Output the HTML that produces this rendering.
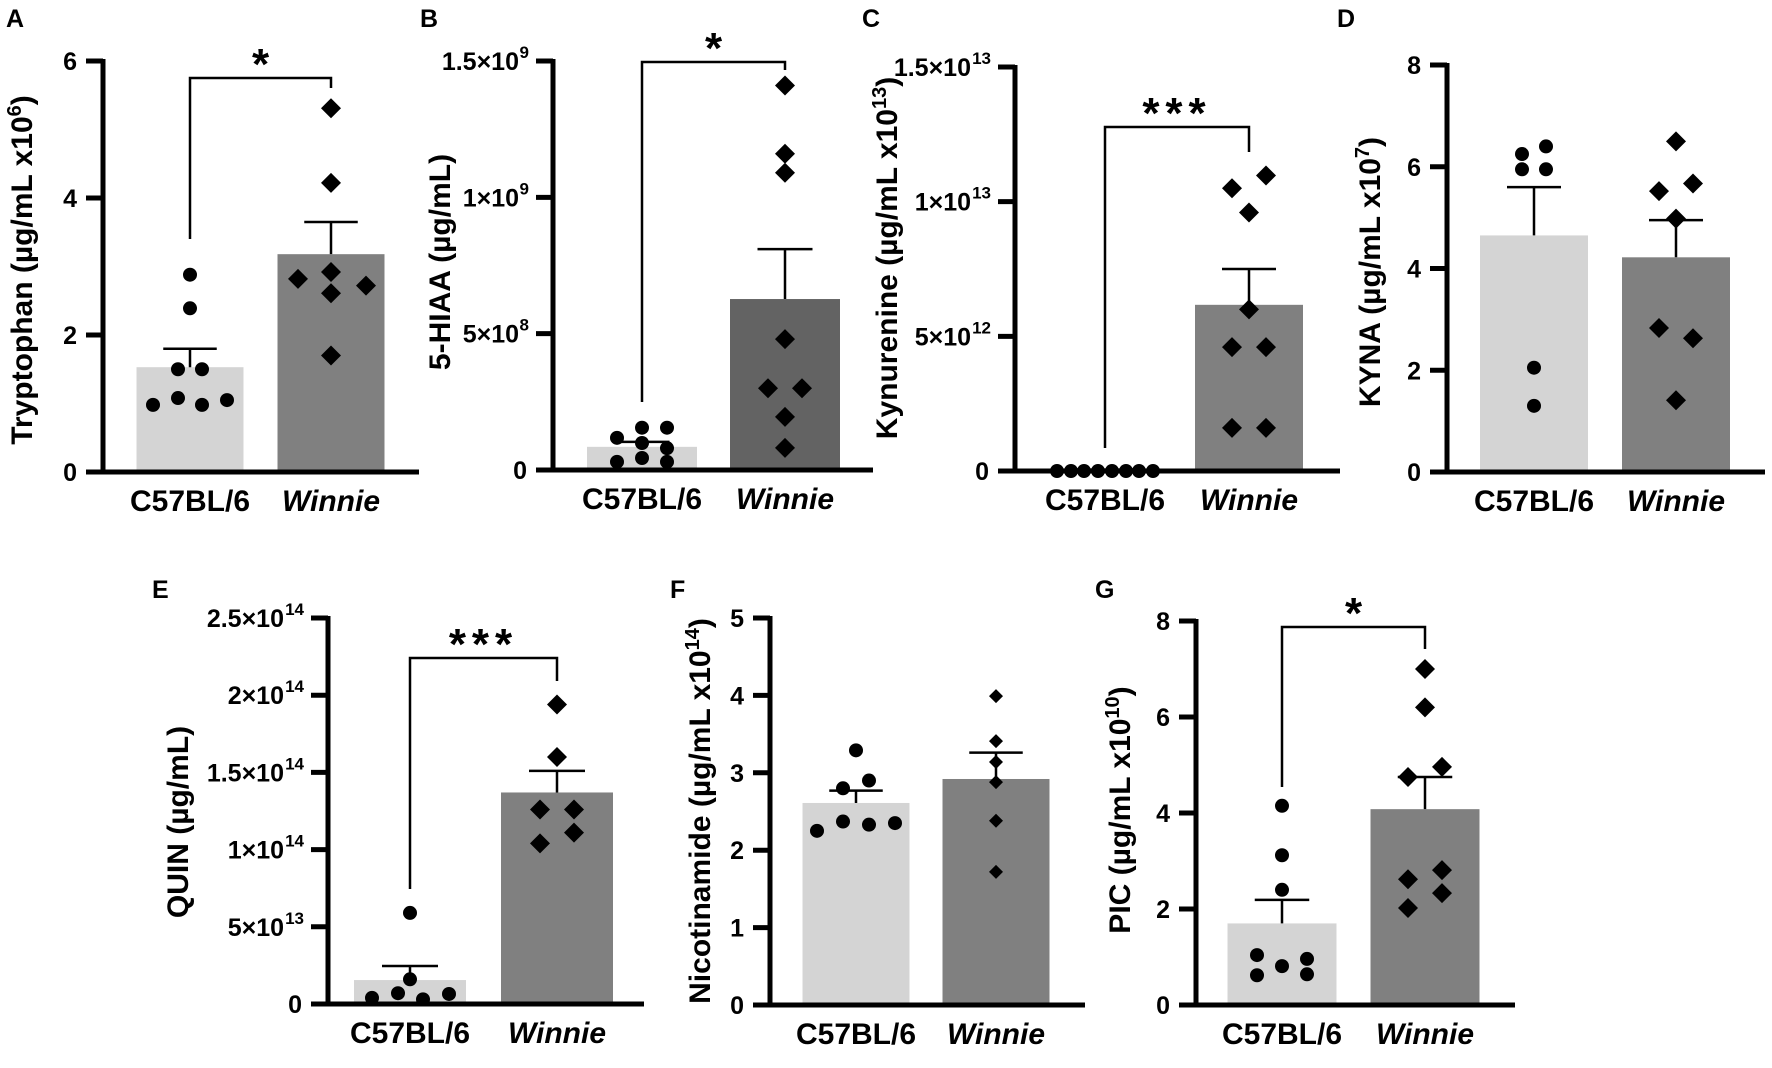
<!DOCTYPE html>
<html><head><meta charset="utf-8">
<style>
html,body{margin:0;padding:0;background:#fff;}
svg{display:block;font-family:"Liberation Sans",Arial,sans-serif;font-weight:bold;}
</style></head>
<body>
<svg id="fig" width="1772" height="1068" viewBox="0 0 1772 1068" xmlns="http://www.w3.org/2000/svg"></svg>
<script>
// ---------- DATA (values in axis units) ----------
// A: Tryptophan (x10^6)
const aMeans=[1.53,3.18];
const aSemTop=[1.8,3.65];
const aC57=[2.88,2.39,1.5,1.5,1.08,0.98,0.98,1.05];
const aWin=[5.31,4.22,2.92,2.82,2.61,2.72,1.7];
// B: 5-HIAA (x10^8)
const bMeans=[0.85,6.27];
const bSemTop=[1.03,8.1];
const bC57=[1.55,1.55,1.18,0.99,0.8,0.44,0.3,0.3];
const bWin=[14.1,11.6,10.9,4.8,3.0,3.0,1.95,0.81];
// C: Kynurenine (x10^12)
const cMeans=[0.05,6.17];
const cSemTop=[0.05,7.5];
const cC57=[0,0,0,0,0,0,0,0];
const cWin=[10.97,10.5,9.6,6.0,4.6,4.6,1.6,1.6];
// D: KYNA (x10^7)
const dMeans=[4.65,4.22];
const dSemTop=[5.6,4.95];
const dC57=[6.25,6.4,5.95,5.95,2.05,1.3];
const dWin=[6.5,5.52,5.67,4.98,2.83,2.63,1.41];
// E: QUIN (x10^13)
const eMeans=[1.55,13.7];
const eSemTop=[2.46,15.1];
const eC57=[5.9,1.6,0.7,0.65,0.4,0.3];
const eWin=[19.4,16.0,12.6,12.6,11.1,10.4];
// F: Nicotinamide (x10^14)
const fMeans=[2.61,2.92];
const fSemTop=[2.77,3.26];
const fC57=[3.29,2.9,2.8,2.37,2.33,2.35,2.25];
const fWin=[3.99,3.41,3.14,2.88,2.38,1.72];
// G: PIC (x10^10)
const gMeans=[1.7,4.08];
const gSemTop=[2.19,4.75];
const gC57=[4.15,3.12,2.4,1.04,0.96,0.81,0.62,0.64];
const gWin=[7.0,6.2,4.96,4.75,2.81,2.62,2.33,2.02];
// tick values / labels
const aTicks=[0,2,4,6];
const bTicks=[0,5,10,15]; const bTickLab=[["0",""],["5×10","8"],["1×10","9"],["1.5×10","9"]];
const cTicks=[0,5,10,15]; const cTickLab=[["0",""],["5×10","12"],["1×10","13"],["1.5×10","13"]];
const dTicks=[0,2,4,6,8];
const eTicks=[0,5,10,15,20,25]; const eTickLab=[["0",""],["5×10","13"],["1×10","14"],["1.5×10","14"],["2×10","14"],["2.5×10","14"]];
const fTicks=[0,1,2,3,4,5];
const gTicks=[0,2,4,6,8];
const groups=["C57BL/6","Winnie"];

// ---------- LAYOUT ----------
const panels=[
 {id:"a",letter:"A",lx:6,ly:27,axisX:103,y0:472,yTop:61,max:6,ticks:aTicks,tl:null,c:[190,331],bw:107,xEnd:419,
  means:aMeans,sem:aSemTop,c57:aC57,win:aWin,jc:[0,0,-12,12,-12,-37,12,37],jw:[0,0,0,-33,0,35,0],
  col2:"#808080",label:["Tryptophan (µg/mL x10","6",")"],labX:22,labY:270,br:{y:78,l:239,r:88,t:"*"},ds:10,r:7},
 {id:"b",letter:"B",lx:420,ly:27,axisX:553,y0:470,yTop:61,max:15,ticks:bTicks,tl:bTickLab,c:[642,785],bw:110,xEnd:873,
  means:bMeans,sem:bSemTop,c57:bC57,win:bWin,jc:[0,25,-25,0,25,0,-25,25],jw:[0,0,0,0,-17,17,0,0],
  col2:"#636363",label:["5-HIAA (µg/mL)","",""],labX:440,labY:262,br:{y:62,l:402,r:70,t:"*"},ds:10,r:7},
 {id:"c",letter:"C",lx:862,ly:27,axisX:1015,y0:471,yTop:67,max:15,ticks:cTicks,tl:cTickLab,c:[1105,1249],bw:108,xEnd:1340,
  means:cMeans,sem:cSemTop,c57:cC57,win:cWin,jc:[-48,-34,-21,-7,7,21,34,48],jw:[17,-17,0,0,-17,17,-17,17],
  col2:"#808080",label:["Kynurenine (µg/mL x10","13",")"],labX:887,labY:258,br:{y:127,l:448,r:152,t:"***"},ds:10,r:7},
 {id:"d",letter:"D",lx:1337,ly:27,axisX:1447,y0:472,yTop:65,max:8,ticks:dTicks,tl:null,c:[1534,1676],bw:108,xEnd:1765,
  means:dMeans,sem:dSemTop,c57:dC57,win:dWin,jc:[-12,12,-12,12,0,0],jw:[0,-17,17,0,-17,17,0],
  col2:"#808080",label:["KYNA (µg/mL x10","7",")"],labX:1370,labY:272,br:null,ds:10,r:7},
 {id:"e",letter:"E",lx:152,ly:598,axisX:328,y0:1004,yTop:618,max:25,ticks:eTicks,tl:eTickLab,c:[410,557],bw:112,xEnd:644,
  means:eMeans,sem:eSemTop,c57:eC57,win:eWin,jc:[0,0,-12,39,-38,13],jw:[0,0,-17,17,17,-17],
  col2:"#808080",label:["QUIN (µg/mL)","",""],labX:178,labY:822,br:{y:658,l:889,r:681,t:"***"},ds:10,r:7},
 {id:"f",letter:"F",lx:670,ly:598,axisX:770,y0:1005,yTop:618,max:5,ticks:fTicks,tl:null,c:[856,996],bw:107,xEnd:1085,
  means:fMeans,sem:fSemTop,c57:fC57,win:fWin,jc:[0,13,-13,-13,13,39,-39],jw:[0,0,0,0,0,0],
  col2:"#808080",label:["Nicotinamide (µg/mL x10","14",")"],labX:700,labY:811,br:null,ds:7,r:7},
 {id:"g",letter:"G",lx:1095,ly:598,axisX:1196,y0:1005,yTop:621,max:8,ticks:gTicks,tl:null,c:[1282,1425],bw:109,xEnd:1515,
  means:gMeans,sem:gSemTop,c57:gC57,win:gWin,jc:[0,0,0,-25,25,0,-25,25],jw:[0,0,17,-17,17,-17,17,-17],
  col2:"#808080",label:["PIC (µg/mL x10","10",")"],labX:1120,labY:810,br:{y:627,l:787,r:649,t:"*"},ds:10,r:7}
];

const NS="http://www.w3.org/2000/svg";
const svg=document.getElementById("fig");
function mk(tag,attrs,parent){const e=document.createElementNS(NS,tag);for(const k in attrs)e.setAttribute(k,attrs[k]);(parent||svg).appendChild(e);return e;}

panels.forEach(p=>{
  const g=mk("g",{});
  
  
  const yS=v=>p.y0-(v/p.max)*(p.y0-p.yTop);
  // letter
  const L=mk("text",{x:p.lx,y:p.ly,"font-size":25},g);L.textContent=p.letter;
  
  
  // bars
  [0,1].forEach(i=>{
    const top=yS(p.means[i]);
    const b=mk("rect",{x:p.c[i]-p.bw/2,y:top,width:p.bw,height:p.y0-top,fill:i?p.col2:"#d4d4d4"},g);
    
    
  });
  // axes
  const ax=mk("g",{stroke:"#000","stroke-width":5,fill:"none"},g);
  
  
  mk("line",{x1:p.axisX,y1:p.yTop-2,x2:p.axisX,y2:p.y0+2.5},ax);
  mk("line",{x1:p.axisX-17,y1:p.y0,x2:p.xEnd,y2:p.y0},ax);
  p.ticks.forEach((t,k)=>{
    const y=yS(t);
    mk("line",{x1:p.axisX-17,y1:y,x2:p.axisX,y2:y},ax);
    const tx=mk("text",{x:p.axisX-26,y:y+9,"font-size":25,"text-anchor":"end"},g);
    
    
    if(p.tl){
      const lab=p.tl[k];
      if(lab[1]){
        tx.setAttribute('x',p.axisX-24-lab[1].length*10);
        tx.textContent=lab[0];
        const s=mk("text",{x:p.axisX-24,y:y-3,"font-size":17,"text-anchor":"end"},g);
        s.textContent=lab[1];
        
        
      } else tx.textContent=lab[0];
    } else tx.textContent=String(t);
  });
  // error bars
  [0,1].forEach(i=>{
    const t=yS(p.means[i]),s=yS(p.sem[i]);
    const e=mk("path",{d:`M${p.c[i]},${t}V${s}M${p.c[i]-p.bw/4},${s}H${p.c[i]+p.bw/4}`,stroke:"#000","stroke-width":2.5,fill:"none"},g);
    
    
  });
  // points
  p.c57.forEach((v,k)=>{
    const c=mk("circle",{cx:p.c[0]+p.jc[k],cy:yS(v),r:p.r,fill:"#000"},g);
    
    
  });
  p.win.forEach((v,k)=>{
    const x=p.c[1]+p.jw[k],y=yS(v),d=p.ds;
    const dm=mk("path",{d:`M${x},${y-d}L${x+d},${y}L${x},${y+d}L${x-d},${y}Z`,fill:"#000"},g);
    
    
  });
  // x labels
  groups.forEach((gname,i)=>{
    const t=mk("text",{x:p.c[i],y:p.y0+39,"font-size":30,"text-anchor":"middle","font-style":i?"italic":"normal"},g);
    t.textContent=gname;
    
    
  });
  // y label
  const yl=mk("text",{transform:`translate(${p.labX+10},${p.labY}) rotate(-90)`,"font-size":30,"text-anchor":"middle"},g);
  
  
  const t1=mk("tspan",{},yl);t1.textContent=p.label[0];
  if(p.label[1]){
    const t2=mk("tspan",{"font-size":20,dy:-11},yl);t2.textContent=p.label[1];
    const t3=mk("tspan",{dy:11},yl);t3.textContent=p.label[2];
  }
  // significance bracket
  if(p.br){
    const b=mk("path",{d:`M${p.c[0]},${p.br.l}V${p.br.y}H${p.c[1]}V${p.br.r}`,stroke:"#000","stroke-width":2.5,fill:"none"},g);
    
    
    const st=mk("text",{x:(p.c[0]+p.c[1])/2,y:p.br.y+1,"font-size":44,"text-anchor":"middle","letter-spacing":p.br.t.length>1?6:0},g);
    st.textContent=p.br.t;
    
    
  }
});
</script>
</body></html>
